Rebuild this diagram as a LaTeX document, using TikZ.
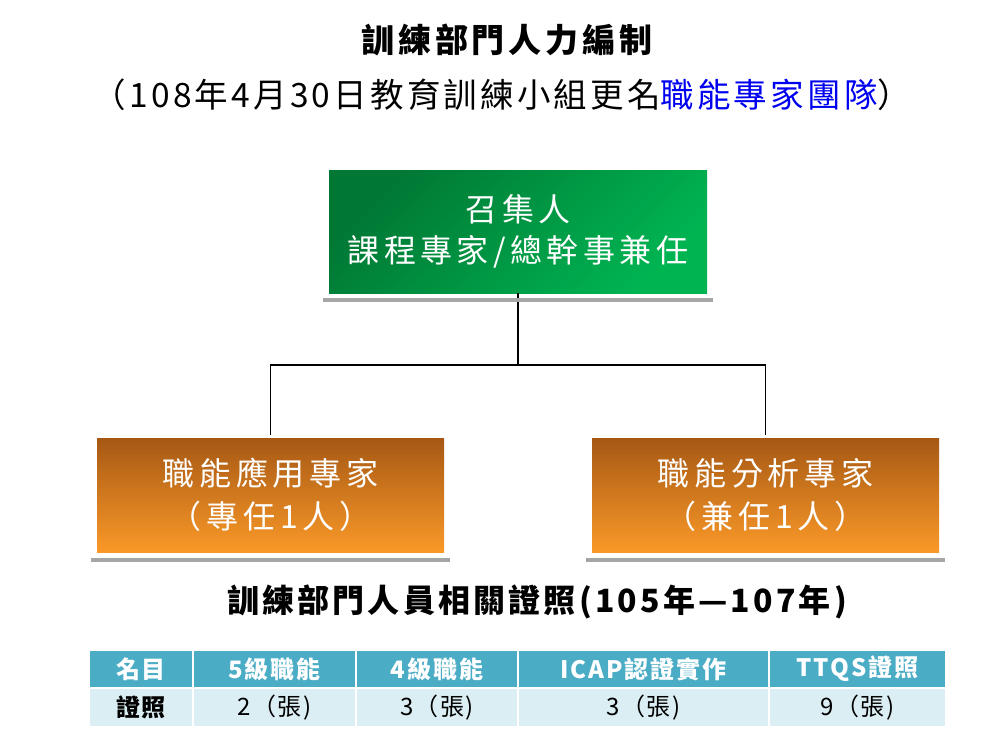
\documentclass[tikz,border=0pt]{standalone}
\usepackage{fontspec}
\setmainfont{Noto Sans CJK TC}
\definecolor{gdark}{RGB}{0,120,52}
\definecolor{glight}{RGB}{0,180,82}
\definecolor{otop}{RGB}{166,88,20}
\definecolor{obot}{RGB}{250,153,40}
\definecolor{shadowgray}{RGB}{166,166,166}
\definecolor{hdr}{RGB}{75,172,198}
\definecolor{rowc}{RGB}{218,238,243}
\definecolor{titleblue}{RGB}{0,0,240}
\newcommand{\fs}[2]{\fontsize{#1}{#2}\selectfont}
\tikzset{
  x=1pt, y=-1pt,
  greenbox/.style={rectangle, inner sep=0pt, minimum width=378pt, minimum height=123pt,
    top color=gdark, bottom color=glight, shading angle=45, text=white, align=center,
    font=\fs{32}{41}\addfontfeature{LetterSpace=14}},
  orangebox/.style={rectangle, inner sep=0pt, minimum width=347pt, minimum height=114pt,
    top color=otop, bottom color=obot, text=white, align=center,
    font=\fs{32}{43}\addfontfeature{LetterSpace=15}},
  shadowline/.style={draw=shadowgray, line width=4pt},
  conn/.style={draw=black, line width=1.6pt},
  hcell/.style={rectangle, fill=hdr, draw=white, line width=1.5pt, minimum height=38pt, inner sep=0pt,
    text=white, font=\bfseries\fs{24}{28}\addfontfeature{LetterSpace=8}},
  rcell/.style={rectangle, fill=rowc, draw=white, line width=1.5pt, minimum height=39pt, inner sep=0pt,
    text=black, font=\fs{24}{28}\addfontfeature{LetterSpace=6}},
}
\begin{document}
\begin{tikzpicture}
\fill[white] (0,0) rectangle (999,742);
\useasboundingbox (0,0) rectangle (999,742);

% titles
\node (title) at (507,40) {\bfseries\fs{33}{38}\addfontfeature{LetterSpace=12}訓練部門人力編制};
\node (sub) at (502,95) {\fs{33.5}{38}\addfontfeature{LetterSpace=9.5}（108年4月30日教育訓練小組更名\textcolor{titleblue}{職能專家團隊}）};

% boxes
\node[greenbox] (g) at (518,231.5) {召集人\\課程專家/總幹事兼任};
\node[orangebox] (l) at (270.5,495) {職能應用專家\\（專任1人）};
\node[orangebox] (r) at (765.5,495) {職能分析專家\\（兼任1人）};

% connectors
\coordinate (j) at (518,365);
\draw[conn] (g.south) -- (j);
\draw[conn, shorten >=3pt] (j) -| (l.north);
\draw[conn, shorten >=3pt] (j) -| (r.north);

% shadow lines
\draw[shadowline] ([xshift=-6pt,yshift=-6.5pt]g.south west) -- ([xshift=6pt,yshift=-6.5pt]g.south east);
\draw[shadowline] ([xshift=-6pt,yshift=-7.5pt]l.south west) -- ([xshift=6pt,yshift=-7.5pt]l.south east);
\draw[shadowline] ([xshift=-6pt,yshift=-7.5pt]r.south west) -- ([xshift=6pt,yshift=-7.5pt]r.south east);

% subtitle
\node (cert) at (537,602) {\bfseries\fs{32}{38}\addfontfeature{LetterSpace=10}訓練部門人員相關證照(105年—107年)};

% table
\node[hcell, minimum width=104pt] (h1) at (141,669) {名目};
\node[hcell, minimum width=163pt] (h2) at (274.5,669) {5級職能};
\node[hcell, minimum width=162pt] (h3) at (437,669) {4級職能};
\node[hcell, minimum width=251pt] (h4) at (643.5,669) {ICAP認證實作};
\node[hcell, minimum width=177pt] (h5) at (857.5,669) {TTQS證照};
\node[rcell, minimum width=104pt, font=\bfseries\fs{24}{28}\addfontfeature{LetterSpace=8}] (c1) at (141,707.5) {證照};
\node[rcell, minimum width=163pt] (c2) at (274.5,707.5) {2（張)};
\node[rcell, minimum width=162pt] (c3) at (437,707.5) {3（張)};
\node[rcell, minimum width=251pt] (c4) at (643.5,707.5) {3（張)};
\node[rcell, minimum width=177pt] (c5) at (857.5,707.5) {9（張)};
\end{tikzpicture}
\end{document}
